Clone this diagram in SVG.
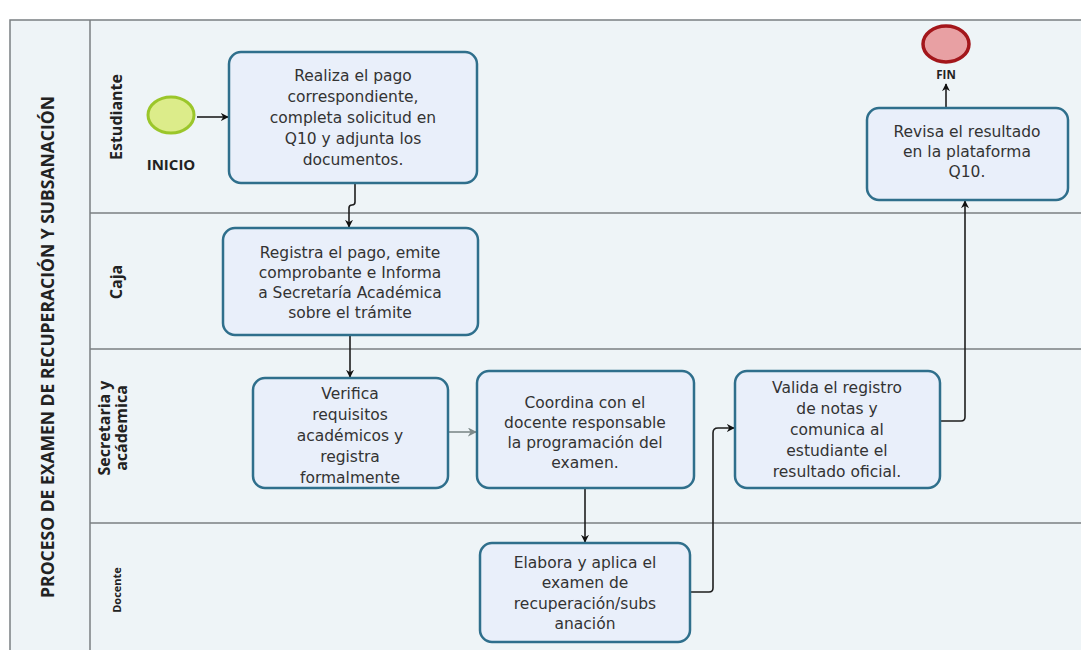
<svg xmlns="http://www.w3.org/2000/svg" width="1081" height="650" viewBox="0 0 1081 650">
<style>
.pool{fill:#eef4f7;stroke:#7a7f82;stroke-width:1.5}
.div{stroke:#7a7f82;stroke-width:1.5;fill:none}
.task{fill:#e9effa;stroke:#2f6f8c;stroke-width:2.5}
.t{font-family:"DejaVu Sans","Open Sans",sans-serif;font-size:15.5px;fill:#333;text-anchor:middle}
.lane{font-family:"Open Sans","Noto Sans",sans-serif;font-weight:bold;font-size:16px;fill:#222;text-anchor:middle}
.ev{font-family:"Open Sans","Noto Sans",sans-serif;font-weight:bold;fill:#222;text-anchor:middle}
.c{fill:none;stroke:#1e1e1e;stroke-width:1.6}
</style>
<defs>
<marker id="a" viewBox="0 0 10 10" refX="9" refY="5" markerWidth="8" markerHeight="8" orient="auto" markerUnits="userSpaceOnUse">
<path d="M0,0 L10,5 L0,10 L3,5 z" fill="#111"/>
</marker>
<marker id="ag" viewBox="0 0 10 10" refX="9" refY="5" markerWidth="9" markerHeight="9" orient="auto" markerUnits="userSpaceOnUse">
<path d="M0,0 L10,5 L0,10 L3,5 z" fill="#7d8a8a"/>
</marker>
</defs>
<rect width="1081" height="650" fill="#ffffff"/>
<g id="pool">
<rect class="pool" x="10" y="20" width="1090" height="650"/>
<line class="div" x1="90" y1="20" x2="90" y2="650"/>
<line class="div" x1="90" y1="213" x2="1081" y2="213"/>
<line class="div" x1="90" y1="349" x2="1081" y2="349"/>
<line class="div" x1="90" y1="523" x2="1081" y2="523"/>
<text class="lane" transform="translate(54,347) rotate(-90)" style="font-size:17.5px">PROCESO DE EXAMEN DE RECUPERACIÓN Y SUBSANACIÓN</text>
<text class="lane" transform="translate(122,117) rotate(-90)">Estudiante</text>
<text class="lane" transform="translate(122,282) rotate(-90)">Caja</text>
<text class="lane" transform="translate(110,428) rotate(-90)">Secretaria y</text>
<text class="lane" transform="translate(127,428) rotate(-90)">acádemica</text>
<text class="lane" transform="translate(121,590) rotate(-90)" style="font-size:11px">Docente</text>
</g>
<g id="connectors">
<line class="c" x1="197" y1="117" x2="228" y2="117" marker-end="url(#a)"/>
<path class="c" d="M355,183 V202 Q355,205 352,205 Q349,205 349,208 V227" marker-end="url(#a)"/>
<line class="c" x1="350" y1="335" x2="350" y2="377" marker-end="url(#a)"/>
<line x1="449" y1="432" x2="476" y2="432" stroke="#7d8a8a" stroke-width="1.6" marker-end="url(#ag)"/>
<line class="c" x1="585" y1="488" x2="585" y2="542" marker-end="url(#a)"/>
<path class="c" d="M690,592 H709 Q713,592 713,588 V433 Q713,428 718,428 H734" marker-end="url(#a)"/>
<path class="c" d="M940,421 H961 Q965,421 965,417 V201" marker-end="url(#a)"/>
<line class="c" x1="946" y1="108" x2="946" y2="84" marker-end="url(#a)"/>
</g>
<g id="inicio">
<ellipse cx="171" cy="115" rx="23" ry="18" fill="#dcec8a" stroke="#9bc62a" stroke-width="3"/>
<text class="ev" x="171" y="170" font-size="15">INICIO</text>
</g>
<g id="fin">
<ellipse cx="946" cy="44" rx="23" ry="18" fill="#e8a0a3" stroke="#a3161b" stroke-width="3.5"/>
<text class="ev" x="946" y="79" font-size="11.5">FIN</text>
</g>
<g id="t1">
<rect class="task" x="229" y="52" width="248" height="131" rx="12"/>
<text class="t" x="353" y="81">Realiza el pago</text>
<text class="t" x="353" y="102">correspondiente,</text>
<text class="t" x="353" y="123">completa solicitud en</text>
<text class="t" x="353" y="144">Q10 y adjunta los</text>
<text class="t" x="353" y="165">documentos.</text>
</g>
<g id="t2">
<rect class="task" x="223" y="228" width="255" height="107" rx="12"/>
<text class="t" x="350" y="258">Registra el pago, emite</text>
<text class="t" x="350" y="278">comprobante e Informa</text>
<text class="t" x="350" y="298">a Secretaría Académica</text>
<text class="t" x="350" y="318">sobre el trámite</text>
</g>
<g id="t3">
<rect class="task" x="253" y="378" width="195" height="110" rx="12"/>
<text class="t" x="350" y="399">Verifica</text>
<text class="t" x="350" y="420">requisitos</text>
<text class="t" x="350" y="441">académicos y</text>
<text class="t" x="350" y="462">registra</text>
<text class="t" x="350" y="483">formalmente</text>
</g>
<g id="t4">
<rect class="task" x="477" y="371" width="217" height="117" rx="12"/>
<text class="t" x="585" y="408">Coordina con el</text>
<text class="t" x="585" y="428">docente responsable</text>
<text class="t" x="585" y="448">la programación del</text>
<text class="t" x="585" y="468">examen.</text>
</g>
<g id="t5">
<rect class="task" x="735" y="371" width="205" height="117" rx="12"/>
<text class="t" x="837" y="393">Valida el registro</text>
<text class="t" x="837" y="414">de notas y</text>
<text class="t" x="837" y="435">comunica al</text>
<text class="t" x="837" y="456">estudiante el</text>
<text class="t" x="837" y="477">resultado oficial.</text>
</g>
<g id="t6">
<rect class="task" x="480" y="543" width="210" height="99" rx="12"/>
<text class="t" x="585" y="568">Elabora y aplica el</text>
<text class="t" x="585" y="588">examen de</text>
<text class="t" x="585" y="609">recuperación/subs</text>
<text class="t" x="585" y="629">anación</text>
</g>
<g id="t7">
<rect class="task" x="867" y="108" width="201" height="92" rx="12"/>
<text class="t" x="967" y="137">Revisa el resultado</text>
<text class="t" x="967" y="157">en la plataforma</text>
<text class="t" x="967" y="177">Q10.</text>
</g>
</svg>
